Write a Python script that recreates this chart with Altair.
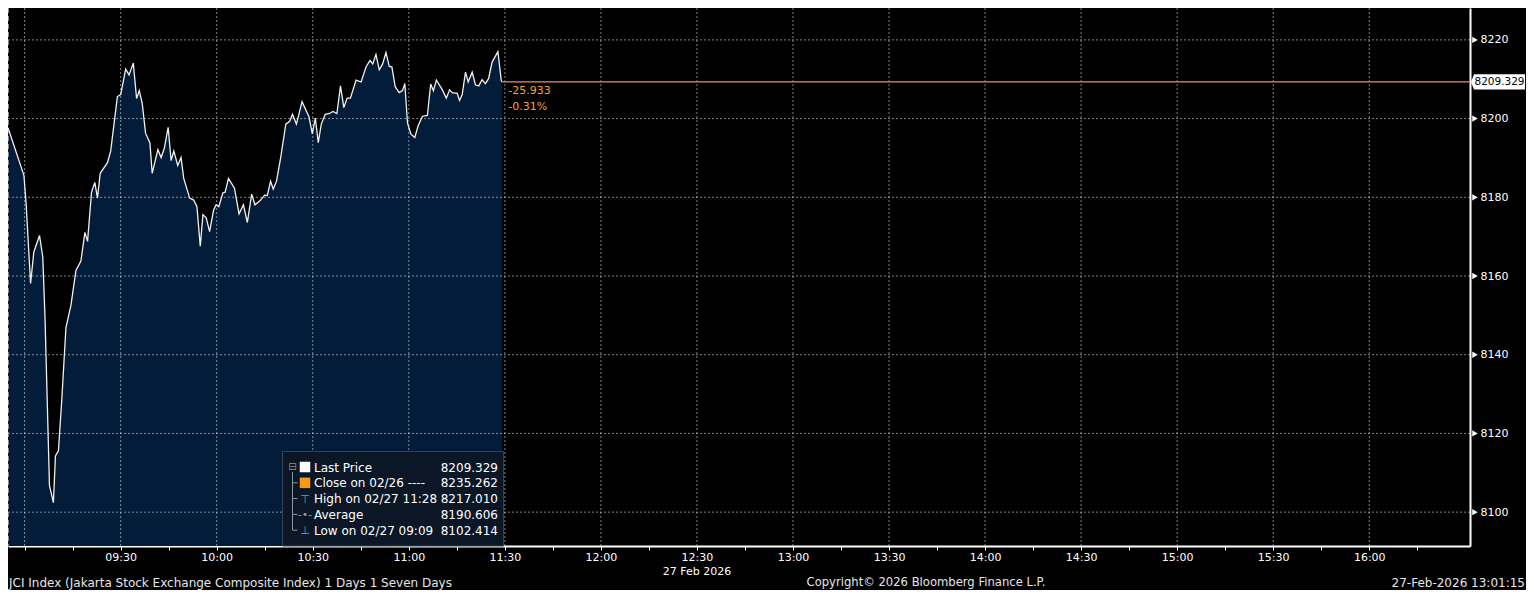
import altair as alt
import pandas as pd

DAY = "2026-02-27"

# ---- data -----------------------------------------------------------------
times = [
    "08:54:49", "08:59:47", "09:00:30", "09:01:52", "09:02:53", "09:04:40", "09:05:41", "09:06:24", "09:07:46", "09:09:00",
    "09:09:38", "09:10:34", "09:11:35", "09:12:55", "09:14:29", "09:16:02", "09:17:35", "09:18:50", "09:19:40", "09:20:54",
    "09:21:56", "09:22:46", "09:23:37", "09:25:53", "09:26:54", "09:28:59", "09:30:01", "09:31:34", "09:32:37", "09:33:57",
    "09:34:59", "09:35:49", "09:36:45", "09:37:47", "09:39:09", "09:39:51", "09:41:38", "09:42:39", "09:43:41", "09:44:50",
    "09:45:46", "09:46:36", "09:47:50", "09:48:52", "09:49:42", "09:51:34", "09:52:49", "09:53:50", "09:54:52", "09:55:42",
    "09:56:44", "09:57:47", "09:59:02", "09:59:50", "10:00:40", "10:01:55", "10:02:38", "10:03:41", "10:05:33", "10:06:59",
    "10:08:21", "10:09:35", "10:10:55", "10:11:57", "10:13:30", "10:15:03", "10:15:48", "10:16:50", "10:17:40", "10:18:41",
    "10:19:56", "10:21:35", "10:22:49", "10:23:40", "10:24:54", "10:26:40", "10:28:51", "10:29:52", "10:30:48", "10:31:44",
    "10:32:40", "10:33:55", "10:35:15", "10:36:18", "10:37:33", "10:38:40", "10:39:43", "10:40:45", "10:41:46", "10:43:32",
    "10:45:06", "10:46:39", "10:47:53", "10:48:44", "10:49:45", "10:50:47", "10:51:50", "10:52:52", "10:53:53", "10:54:44",
    "10:55:45", "10:57:00", "10:58:03", "10:58:46", "10:59:36", "11:00:38", "11:01:52", "11:02:54", "11:04:16", "11:05:49",
    "11:06:50", "11:07:41", "11:08:37", "11:10:29", "11:11:43", "11:12:45", "11:13:35", "11:15:08", "11:15:51", "11:16:41",
    "11:17:43", "11:18:33", "11:19:48", "11:20:49", "11:21:51", "11:22:54", "11:23:56", "11:24:57", "11:26:00", "11:27:50",
    "11:28:54", "11:29:13",
]
prices = [
    8197.7, 8185.6, 8178.1, 8158.1, 8166.1, 8170.3, 8164.8, 8148.8, 8106.8, 8102.4,
    8114.3, 8115.6, 8128.1, 8146.9, 8152.6, 8161.4, 8163.8, 8171.1, 8168.8, 8181.3,
    8183.8, 8179.8, 8186.1, 8188.8, 8191.8, 8205.6, 8206.1, 8212.6, 8211.1, 8214.1,
    8205.1, 8207.1, 8203.8, 8196.3, 8193.8, 8186.1, 8192.1, 8190.1, 8192.6, 8197.8,
    8189.3, 8191.8, 8188.1, 8190.1, 8184.8, 8179.8, 8179.3, 8177.6, 8167.6, 8175.6,
    8174.8, 8171.3, 8176.8, 8178.1, 8177.6, 8181.1, 8181.3, 8184.8, 8182.3, 8175.8,
    8178.1, 8173.6, 8180.8, 8178.1, 8179.1, 8180.6, 8180.4, 8184.1, 8182.1, 8184.1,
    8189.8, 8198.6, 8199.3, 8201.1, 8198.6, 8204.3, 8200.4, 8196.1, 8200.1, 8193.9,
    8198.6, 8201.1, 8201.3, 8201.8, 8201.3, 8208.3, 8202.8, 8205.2, 8205.2, 8209.8,
    8209.3, 8213.1, 8214.8, 8213.9, 8216.3, 8212.4, 8213.9, 8216.8, 8213.3, 8213.1,
    8208.1, 8206.6, 8207.1, 8208.9, 8198.9, 8196.1, 8195.2, 8198.1, 8200.6, 8200.8,
    8208.8, 8207.1, 8209.8, 8207.3, 8205.2, 8207.3, 8206.6, 8206.4, 8204.6, 8206.1,
    8211.8, 8209.3, 8211.8, 8208.6, 8208.3, 8209.9, 8208.9, 8210.2, 8214.3, 8217.0,
    8209.6, 8209.329,
]

x_tick_times = [
    "09:00", "09:15", "09:30", "09:45", "10:00", "10:15", "10:30", "10:45",
    "11:00", "11:15", "11:30", "11:45", "12:00", "12:15", "12:30", "12:45",
    "13:00", "13:15", "13:30", "13:45", "14:00", "14:15", "14:30", "14:45",
    "15:00", "15:15", "15:30", "15:45", "16:00", "16:15",
]
grid_times = [
    "09:00", "09:30", "10:00", "10:30", "11:00", "11:30", "12:00", "12:30",
    "13:00", "13:30", "14:00", "14:30", "15:00", "15:30", "16:00",
]
y_ticks = [8100, 8120, 8140, 8160, 8180, 8200, 8220]
x_domain = ["08:54:49", "16:31:28"]
y_domain = [8091.4, 8228.1]

legend_labels = ["Last Price", "Close on 02/26 ----", "High on 02/27 11:28", "Average", "Low on 02/27 09:09"]
legend_values = ["8209.329", "8235.262", "8217.010", "8190.606", "8102.414"]
legend_glyphs = ["\u22a4", "-\u2022-", "\u22a5"]

last_price = 8209.329
last_time = "11:29:13"
net_change_text = "-25.933"
pct_change_text = "-0.31%"
date_label = "27 Feb 2026"
date_label_time = "12:30"
footer_left = "JCI Index (Jakarta Stock Exchange Composite Index) 1 Days 1 Seven Days"
footer_mid = "Copyright\u00a9 2026 Bloomberg Finance L.P."
footer_right = "27-Feb-2026 13:01:15"

# ---- style / layout -------------------------------------------------------
W, H = 1462, 538
FONT = "DejaVu Sans"
AREA = "#021c39"
LINE = "#f0f0f0"
GRID = "#ffffff"
ORANGE_LINE = "#ec8c5e"
ORANGE_TXT = "#f5a030"
LEG_BG = "#0b1727"
LEG_BORDER = "#36424f"
TREE = "#8e949b"
ROWS = [459.0, 474.8, 490.6, 506.4, 522.2]
LEG_X0, LEG_X1, LEG_Y0 = 274.5, 495.5, 443.5
TREE_X = 284.5
BOX_PATH = "M-1,0L-0.889,-0.278L1,-0.278L1,0.278L-0.889,0.278Z"


def dt(hms):
    p = [int(v) for v in hms.split(":")]
    while len(p) < 3:
        p.append(0)
    return alt.DateTime(year=2026, month=2, date=27, hours=p[0], minutes=p[1], seconds=p[2])


xs = alt.Scale(domain=[dt(x_domain[0]), dt(x_domain[1])], nice=False)
ys = alt.Scale(domain=y_domain, nice=False, zero=False)

df = pd.DataFrame({"time": [f"{DAY}T{t}" for t in times], "price": prices})
one = pd.DataFrame({"k": [0]})

label_expr = (
    "minutes(datum.value) % 30 == 0 && !(hours(datum.value) == 9 && minutes(datum.value) == 0)"
    " ? timeFormat(datum.value, '%H:%M') : ''"
)
x_axis = alt.Axis(
    values=[dt(t) for t in x_tick_times], labelExpr=label_expr, tickSize=4, tickColor="white",
    tickWidth=1, domainColor="white", domainWidth=2, labelColor="white", labelFont=FONT,
    labelFontSize=11, labelPadding=1, grid=False, labelOverlap=False, labelFlush=False, title=None,
)
y_axis = alt.Axis(
    orient="right", values=y_ticks, format="d", ticks=False, labelPadding=10, domainColor="white",
    domainWidth=2, labelColor="white", labelFont=FONT, labelFontSize=11, grid=False,
    labelOverlap=False, labelFlush=False, title=None,
)


def xf(field):
    return alt.X(field, type="temporal", scale=xs, axis=x_axis)


def yf(field):
    return alt.Y(field, type="quantitative", scale=ys, axis=y_axis)


def xd(t):
    return alt.XDatum(dt(t), type="temporal", scale=xs, axis=x_axis)


def yd(v):
    return alt.YDatum(v, type="quantitative", scale=ys, axis=y_axis)


area = alt.Chart(df).mark_area(color=AREA, clip=True).encode(
    x=xf("time"), y=yf("price"), y2=alt.value(H),
)

grid_df = pd.DataFrame({"t": [f"{DAY}T{t}:00" for t in grid_times]})
vgrid = alt.Chart(grid_df).mark_rule(color=GRID, opacity=0.5, strokeDash=[2, 2], strokeWidth=1).encode(
    x=xf("t")
)
hgrid = alt.Chart(pd.DataFrame({"v": y_ticks})).mark_rule(
    color=GRID, opacity=0.5, strokeDash=[2, 2], strokeWidth=1
).encode(y=yf("v"))

left_edge = alt.Chart(one).mark_rule(color="#8a8a8a", strokeDash=[5, 3], strokeWidth=1).encode(
    x=alt.value(0.5), y=alt.value(0), y2=alt.value(H)
)

line = alt.Chart(df).mark_line(color=LINE, strokeWidth=1.3, clip=True).encode(
    x=xf("time"), y=yf("price"),
)

last_rule = alt.Chart(one).mark_rule(color=ORANGE_LINE, strokeWidth=1.2).encode(
    x=xd(last_time), x2=alt.value(W), y=yd(last_price)
)
chg1 = alt.Chart(one).mark_text(
    align="left", baseline="middle", color=ORANGE_TXT, font=FONT, fontSize=11, dx=6, dy=9, text=net_change_text
).encode(x=xd(last_time), y=yd(last_price))
chg2 = alt.Chart(one).mark_text(
    align="left", baseline="middle", color=ORANGE_TXT, font=FONT, fontSize=11, dx=6, dy=25, text=pct_change_text
).encode(x=xd(last_time), y=yd(last_price))

price_box = alt.Chart(one).mark_point(
    shape=BOX_PATH, filled=True, color="white", size=54 * 54, opacity=1
).encode(x=alt.value(W + 28), y=yd(last_price))
price_txt = alt.Chart(one).mark_text(
    align="center", baseline="middle", color="black", font=FONT, fontSize=10.5, text=f"{last_price:.3f}"
).encode(x=alt.value(W + 29.5), y=yd(last_price))

tri = alt.Chart(pd.DataFrame({"v": y_ticks})).mark_point(
    shape="triangle-right", filled=True, size=40, color="white", opacity=1
).encode(x=alt.value(W + 5), y=yf("v"))

date_txt = alt.Chart(one).mark_text(
    align="center", baseline="middle", color="white", font=FONT, fontSize=11, text=date_label
).encode(x=xd(date_label_time), y=alt.value(H + 26))

foot_l = alt.Chart(one).mark_text(
    align="left", baseline="middle", color="#e6e6e6", font=FONT, fontSize=12, text=footer_left
).encode(x=alt.value(1), y=alt.value(H + 37))
foot_m = alt.Chart(one).mark_text(
    align="center", baseline="middle", color="#e6e6e6", font=FONT, fontSize=11.6, text=footer_mid
).encode(x=alt.value(918), y=alt.value(H + 37))
foot_r = alt.Chart(one).mark_text(
    align="right", baseline="middle", color="#e6e6e6", font=FONT, fontSize=12, text=footer_right
).encode(x=alt.value(W + 55), y=alt.value(H + 37))

# ---- legend box -----------------------------------------------------------
leg_box = alt.Chart(one).mark_rect(fill=LEG_BG, stroke=LEG_BORDER, strokeWidth=1).encode(
    x=alt.value(LEG_X0), x2=alt.value(LEG_X1), y=alt.value(LEG_Y0), y2=alt.value(H)
)
leg_labels = alt.Chart(one).mark_text(
    align="left", baseline="alphabetic", color="white", font=FONT, fontSize=12,
    lineHeight=ROWS[1] - ROWS[0], text=legend_labels,
).encode(x=alt.value(306), y=alt.value(ROWS[0] + 4.5))
leg_values = alt.Chart(one).mark_text(
    align="right", baseline="alphabetic", color="white", font=FONT, fontSize=12,
    lineHeight=ROWS[1] - ROWS[0], text=legend_values,
).encode(x=alt.value(490), y=alt.value(ROWS[0] + 4.5))
sq_white = alt.Chart(one).mark_point(shape="square", filled=True, color="white", size=110, opacity=1).encode(
    x=alt.value(297), y=alt.value(ROWS[0])
)
sq_orange = alt.Chart(one).mark_point(shape="square", filled=True, color="#f39a12", size=110, opacity=1).encode(
    x=alt.value(297), y=alt.value(ROWS[1])
)
glyphs = alt.Chart(one).mark_text(
    align="center", baseline="alphabetic", color=TREE, font=FONT, fontSize=11,
    lineHeight=ROWS[1] - ROWS[0], text=legend_glyphs,
).encode(x=alt.value(297), y=alt.value(ROWS[2] + 4))
tree_top = alt.Chart(one).mark_text(
    align="center", baseline="middle", color=TREE, font=FONT, fontSize=10, text="\u229f"
).encode(x=alt.value(TREE_X), y=alt.value(ROWS[0]))
tree_v = alt.Chart(one).mark_rule(color=TREE, strokeWidth=1).encode(
    x=alt.value(TREE_X), y=alt.value(ROWS[0] + 5), y2=alt.value(ROWS[4])
)
branches = [
    alt.Chart(one).mark_rule(color=TREE, strokeWidth=1).encode(
        x=alt.value(TREE_X), x2=alt.value(TREE_X + 5), y=alt.value(r)
    )
    for r in ROWS[1:]
]

chart = alt.layer(
    area, vgrid, hgrid, left_edge, line, last_rule, chg1, chg2, price_box, price_txt, tri,
    date_txt, foot_l, foot_m, foot_r,
    leg_box, leg_labels, leg_values, sq_white, sq_orange, glyphs, tree_top, tree_v, *branches,
).properties(
    width=W, height=H, background="black",
    padding={"left": 0, "top": 0, "right": 56, "bottom": 44},
    autosize=alt.AutoSizeParams(type="none"),
).configure_view(strokeWidth=0)

chart.save("out.html", embed_options={"renderer": "svg", "actions": False})
